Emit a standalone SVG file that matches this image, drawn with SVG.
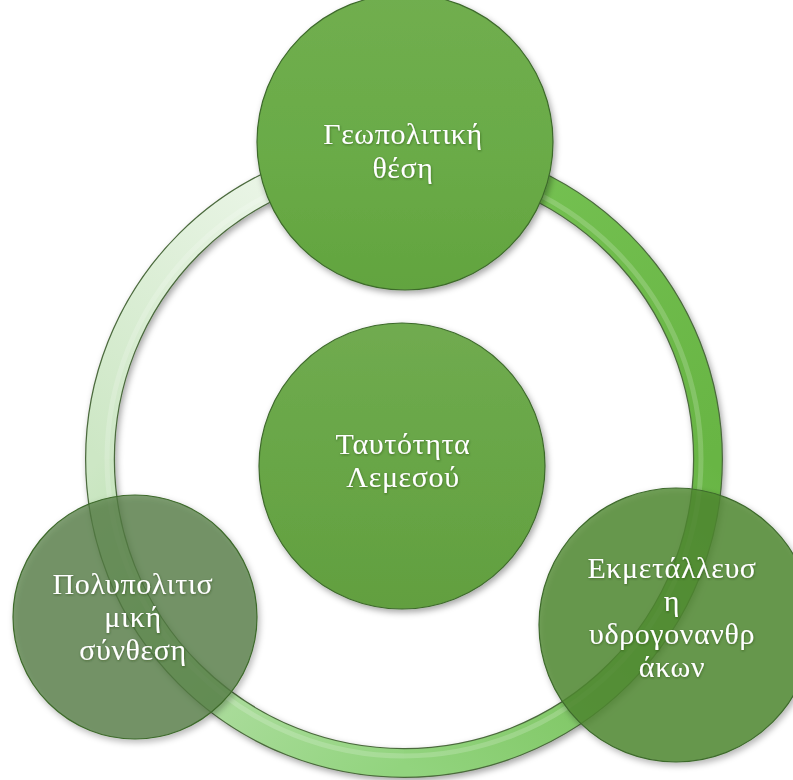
<svg xmlns="http://www.w3.org/2000/svg" width="793" height="780" viewBox="0 0 793 780">
  <defs>
    <filter id="sh" x="-20%" y="-20%" width="140%" height="140%">
      <feDropShadow dx="2" dy="3" stdDeviation="3" flood-color="#000" flood-opacity="0.35"/>
    </filter>
    <filter id="tsh" x="-10%" y="-10%" width="120%" height="130%">
      <feDropShadow dx="0.5" dy="1" stdDeviation="1" flood-color="#1e3a12" flood-opacity="0.5"/>
    </filter>
    <linearGradient id="g1" gradientUnits="userSpaceOnUse" x1="404" y1="155" x2="100" y2="459">
      <stop offset="0" stop-color="#f4faf2"/>
      <stop offset="1" stop-color="#cde7c5"/>
    </linearGradient>
    <linearGradient id="g2" gradientUnits="userSpaceOnUse" x1="100" y1="459" x2="404" y2="763">
      <stop offset="0" stop-color="#cde7c5"/>
      <stop offset="1" stop-color="#92d47e"/>
    </linearGradient>
    <linearGradient id="g3" gradientUnits="userSpaceOnUse" x1="404" y1="763" x2="708" y2="459">
      <stop offset="0" stop-color="#92d47e"/>
      <stop offset="1" stop-color="#68b544"/>
    </linearGradient>
    <linearGradient id="g4" gradientUnits="userSpaceOnUse" x1="708" y1="459" x2="404" y2="155">
      <stop offset="0" stop-color="#68b544"/>
      <stop offset="1" stop-color="#78c455"/>
    </linearGradient>
    <linearGradient id="cg" x1="0" y1="0" x2="0" y2="1">
      <stop offset="0" stop-color="#70ab50"/>
      <stop offset="0.5" stop-color="#68a646"/>
      <stop offset="1" stop-color="#629f40"/>
    </linearGradient>
    <linearGradient id="tg" x1="0" y1="0" x2="0" y2="1">
      <stop offset="0" stop-color="#70ae4f"/>
      <stop offset="0.55" stop-color="#6aab47"/>
      <stop offset="1" stop-color="#62a43f"/>
    </linearGradient>
    <style>
      .ringbase { fill: none; stroke: #4b6a3d; stroke-width: 30; }
      .ring { fill: none; stroke-width: 27.5; }
      .node { stroke: #3e6a2c; stroke-width: 1.2; }
      .lbl { font-family: "Liberation Serif", "DejaVu Serif", serif; font-size: 30px; letter-spacing: 0.6px; fill: #ffffff; text-anchor: middle; }
    </style>
  </defs>

  <g id="connectors">
    <circle cx="404" cy="459" r="304" class="ringbase" filter="url(#sh)"/>
    <path class="ring" stroke="url(#g1)" d="M404,155 A304,304 0 0 0 100,459"/>
    <path class="ring" stroke="url(#g2)" d="M100,459 A304,304 0 0 0 404,763"/>
    <path class="ring" stroke="url(#g3)" d="M404,763 A304,304 0 0 0 708,459"/>
    <path class="ring" stroke="url(#g4)" d="M708,459 A304,304 0 0 0 404,155"/>
    <circle cx="404" cy="459" r="297" fill="none" stroke="#ffffff" stroke-opacity="0.18" stroke-width="5"/>
  </g>

  <g id="node-top">
    <circle cx="405" cy="142" r="148" class="node" fill="url(#tg)" filter="url(#sh)"/>
    <text class="lbl" filter="url(#tsh)"><tspan x="403" y="144">Γεωπολιτική</tspan><tspan x="403" y="178">θέση</tspan></text>
  </g>

  <g id="node-center">
    <circle cx="402" cy="466" r="143" class="node" fill="url(#cg)" filter="url(#sh)"/>
    <text class="lbl" filter="url(#tsh)"><tspan x="403" y="454">Ταυτότητα</tspan><tspan x="403" y="487">Λεμεσού</tspan></text>
  </g>

  <g id="node-left">
    <circle cx="135" cy="617" r="122" class="node" fill="#547d43" fill-opacity="0.74" filter="url(#sh)"/>
    <text class="lbl" filter="url(#tsh)"><tspan x="133" y="594">Πολυπολιτισ</tspan><tspan x="133" y="627">μική</tspan><tspan x="133" y="660">σύνθεση</tspan></text>
  </g>

  <g id="node-right">
    <circle cx="676" cy="625" r="137" class="node" fill="#4f8a30" fill-opacity="0.8" filter="url(#sh)"/>
    <text class="lbl" filter="url(#tsh)"><tspan x="672" y="578">Εκμετάλλευσ</tspan><tspan x="672" y="611">η</tspan><tspan x="672" y="644">υδρογονανθρ</tspan><tspan x="672" y="677">άκων</tspan></text>
  </g>
</svg>
